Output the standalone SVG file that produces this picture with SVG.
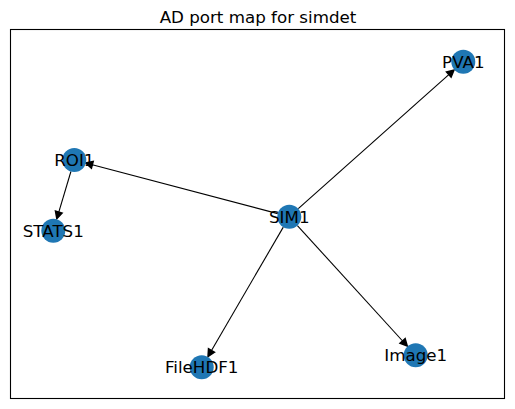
<svg xmlns="http://www.w3.org/2000/svg" width="515" height="409" viewBox="0 0 515 409">
<style>
.node{fill:#1f77b4}
.lbl{font-family:"DejaVu Sans",sans-serif;font-size:16.7px;fill:#000;text-anchor:middle}
.edge{stroke:#000;stroke-width:1.1;fill:none;marker-end:url(#ah)}
</style>
<defs>
<marker id="ah" markerUnits="userSpaceOnUse" markerWidth="12" markerHeight="12" viewBox="-1 -4 8 8" refX="0" refY="0" orient="auto" overflow="visible">
<path d="M0,-2.3 L4.6,0 L0,2.3 z" fill="#000" stroke="#000" stroke-width="1"/>
</marker>
</defs>
<rect width="515" height="409" fill="#fff"/>
<rect x="10.5" y="29.5" width="494" height="369" fill="none" stroke="#000" stroke-width="1.1"/>
<text x="258" y="22.5" class="lbl">AD port map for simdet</text>
<g id="edges">
<line class="edge" x1="277.7" y1="213.6" x2="92.3" y2="164.8"/>
<line class="edge" x1="298.3" y1="208.7" x2="448.8" y2="74.6"/>
<line class="edge" x1="283.3" y1="227.1" x2="211.5" y2="350.5"/>
<line class="edge" x1="297.4" y1="225.6" x2="402.6" y2="341.0"/>
<line class="edge" x1="70.9" y1="171.5" x2="58.8" y2="212.1"/>
</g>
<g id="PVA1"><circle class="node" cx="463.3" cy="61.7" r="12"/><text class="lbl" x="463.3" y="67.8">PVA1</text></g>
<g id="ROI1"><circle class="node" cx="74.3" cy="160" r="12"/><text class="lbl" x="74.3" y="166.1">ROI1</text></g>
<g id="STATS1"><circle class="node" cx="53.3" cy="230.7" r="12"/><text class="lbl" x="53.3" y="236.8">STATS1</text></g>
<g id="SIM1"><circle class="node" cx="289.3" cy="216.7" r="12"/><text class="lbl" x="289.3" y="222.8">SIM1</text></g>
<g id="FileHDF1"><circle class="node" cx="201.7" cy="367.3" r="12"/><text class="lbl" x="201.7" y="373.4">FileHDF1</text></g>
<g id="Image1"><circle class="node" cx="415.7" cy="355.3" r="12"/><text class="lbl" x="415.7" y="361.4">Image1</text></g>
</svg>
